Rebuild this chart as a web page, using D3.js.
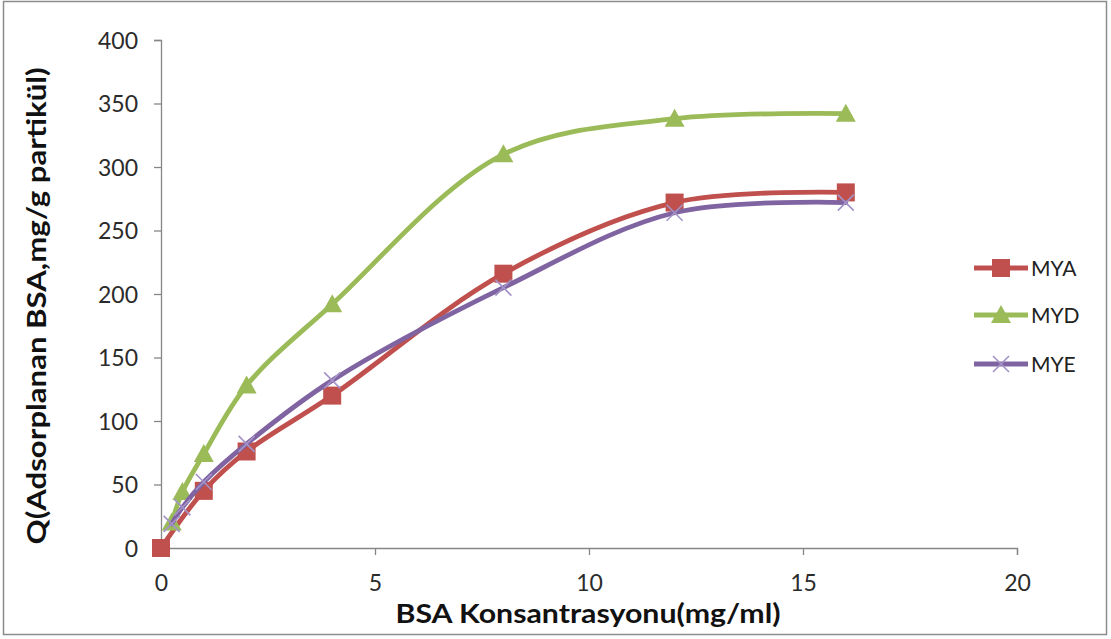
<!DOCTYPE html>
<html>
<head>
<meta charset="utf-8">
<script src="https://cdn.jsdelivr.net/npm/d3@7"></script>
<style>
  html, body { margin: 0; padding: 0; background: #fff; }
  svg { display: block; }
  text { font-family: Lato, "Liberation Sans", sans-serif; }
</style>
</head>
<body>
<svg id="chart" width="1111" height="639"></svg>
<script>
// BSA adsorption isotherms for three particle types
const seriesNames = ["MYA", "MYD", "MYE"];
const concMYA = [0, 1, 2, 4, 8, 12, 16];
const qMYA    = [0, 45, 76, 120, 216, 272, 280];
const concMYD = [0.25, 0.5, 1, 2, 4, 8, 12, 16];
const qMYD    = [20, 44, 74, 128, 192, 310, 338, 342];
const concMYE = [0.25, 0.5, 1, 2, 4, 8, 12, 16];
const qMYE    = [19, 32, 52, 82, 132, 205, 264, 272];
const xTicks = [0, 5, 10, 15, 20];
const yTicks = [0, 50, 100, 150, 200, 250, 300, 350, 400];

const colors = { MYA: "#c0504d", MYD: "#9bbb59", MYE: "#8064a2" };

const svg = d3.select("#chart");

// outer frame
svg.append("rect")
  .attr("x", 3.5).attr("y", 1.5).attr("width", 1103).attr("height", 633)
  .attr("fill", "#fff").attr("stroke", "#8c8c8c").attr("stroke-width", 1.5);

const plot = { left: 161, right: 1017, top: 40, bottom: 548 };
const x = d3.scaleLinear().domain([0, 20]).range([plot.left, plot.right]);
const y = d3.scaleLinear().domain([0, 400]).range([plot.bottom, plot.top]);

// y axis
const yAxis = svg.append("g")
  .attr("transform", `translate(${plot.left},0)`)
  .call(d3.axisLeft(y).tickValues(yTicks).tickSize(7).tickPadding(16));
// x axis
const xAxis = svg.append("g")
  .attr("transform", `translate(0,${plot.bottom})`)
  .call(d3.axisBottom(x).tickValues(xTicks).tickSize(7).tickPadding(24));

[yAxis, xAxis].forEach(g => {
  g.select(".domain").attr("stroke", "#868686").attr("stroke-width", 1.3);
  g.selectAll(".tick line").attr("stroke", "#868686").attr("stroke-width", 1.3);
  g.selectAll(".tick text")
    .attr("font-family", "Lato, sans-serif")
    .attr("font-size", 23).attr("fill", "#2b2b2b");
});
yAxis.selectAll(".tick text").attr("dy", "0.36em");
xAxis.selectAll(".tick text").attr("dy", "0.5em");

// axis titles
svg.append("text")
  .attr("x", 588).attr("y", 623)
  .attr("text-anchor", "middle")
  .attr("font-size", 26).attr("font-weight", "bold").attr("fill", "#111")
  .attr("textLength", 385).attr("lengthAdjust", "spacingAndGlyphs")
  .text("BSA Konsantrasyonu(mg/ml)");

svg.append("text")
  .attr("transform", "translate(46,306) rotate(-90)")
  .attr("text-anchor", "middle")
  .attr("font-size", 26).attr("font-weight", "bold").attr("fill", "#111")
  .attr("textLength", 477).attr("lengthAdjust", "spacingAndGlyphs")
  .text("Q(Adsorplanan BSA,mg/g partikül)");

// smoothed series lines
const line = d3.line()
  .x(d => x(d[0])).y(d => y(d[1]))
  .curve(d3.curveCatmullRom.alpha(0.5));

const series = [
  { name: "MYA", pts: d3.zip(concMYA, qMYA), marker: "square" },
  { name: "MYD", pts: d3.zip(concMYD, qMYD), marker: "triangle" },
  { name: "MYE", pts: d3.zip(concMYE, qMYE), marker: "cross" }
];

function drawMarker(g, type, cx, cy, color) {
  if (type === "square") {
    g.append("rect")
      .attr("x", cx - 9).attr("y", cy - 9).attr("width", 18).attr("height", 18)
      .attr("fill", color);
  } else if (type === "triangle") {
    const s = 10;
    g.append("path")
      .attr("d", `M${cx},${cy - s}L${cx + s},${cy + s * 0.8}L${cx - s},${cy + s * 0.8}Z`)
      .attr("fill", color);
  } else {
    const s = 8;
    g.append("path")
      .attr("d", `M${cx - s},${cy - s}L${cx + s},${cy + s}M${cx - s},${cy + s}L${cx + s},${cy - s}`)
      .attr("stroke", "#a493c9").attr("stroke-width", 1.6).attr("fill", "none");
  }
}

series.forEach(s => {
  const g = svg.append("g");
  g.append("path")
    .attr("d", line(s.pts))
    .attr("fill", "none")
    .attr("stroke", colors[s.name])
    .attr("stroke-width", 4.8)
    .attr("stroke-linecap", "round");
  s.pts.forEach(p => drawMarker(g, s.marker, x(p[0]), y(p[1]), colors[s.name]));
});

// legend
const legendY = [268, 315, 364];
series.forEach((s, i) => {
  const g = svg.append("g");
  const ly = legendY[i];
  g.append("line")
    .attr("x1", 974).attr("x2", 1028).attr("y1", ly).attr("y2", ly)
    .attr("stroke", colors[s.name]).attr("stroke-width", 4.8);
  drawMarker(g, s.marker, 1001, ly, colors[s.name]);
  g.append("text")
    .attr("x", 1031).attr("y", ly).attr("dy", "0.36em")
    .attr("font-size", 21).attr("fill", "#222")
    .text(seriesNames[i]);
});
</script>
</body>
</html>
